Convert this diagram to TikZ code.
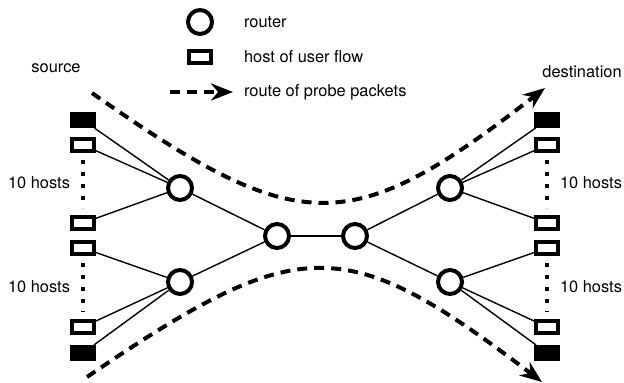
\documentclass[tikz,border=0pt]{standalone}
\usepackage{fontspec}
\setmainfont{TeX Gyre Heros}
\usetikzlibrary{arrows.meta,positioning}

\begin{document}
\begin{tikzpicture}[x=0.5pt,y=-0.5pt,
  font=\fontsize{8.2}{10}\selectfont,
  router/.style={draw, circle, line width=2pt, fill=white, minimum size=12pt, inner sep=0pt},
  host/.style={draw, rectangle, line width=2pt, fill=white, minimum width=11pt, minimum height=6pt, inner sep=0pt},
  srchost/.style={host, fill=black},
  link/.style={line width=0.7pt},
  hostdots/.style={line width=1.8pt, dash pattern=on 1.8pt off 4.2pt, shorten <=3.5pt, shorten >=3.5pt},
  probe/.style={line width=2pt, dash pattern=on 5pt off 3.5pt, -{Stealth[length=11pt,width=8.5pt]}}]
\useasboundingbox (0,0) rectangle (624,383);

% legend
\node[router] (legRouter) at (200,22) {};
\node[host] (legHost) at (200,57) {};
\coordinate (legA) at (170,92);
\coordinate (legB) at (233,92);
\draw[probe] (legA) -- (legB);
\node[anchor=west] (legRouterTxt) at (237,22) {router};
\node[anchor=west] (legHostTxt) at (237,57) {host of user flow};
\node[anchor=west] (legProbeTxt) at (237,92) {route of probe packets};

% routers
\node[router] (rL1) at (180,188) {};
\node[router] (rL2) at (180,282) {};
\node[router] (rC1) at (277,236) {};
\node[router] (rC2) at (355,236) {};
\node[router] (rR1) at (450,188) {};
\node[router] (rR2) at (450,282) {};

% hosts, left side
\node[srchost] (hL1) at (83,120) {};
\node[host] (hL2) at (83,145) {};
\node[host] (hL3) at (83,223) {};
\node[host] (hL4) at (83,248) {};
\node[host] (hL5) at (83,327) {};
\node[srchost] (hL6) at (83,353) {};

% hosts, right side
\node[srchost] (hR1) at (547,120) {};
\node[host] (hR2) at (547,145) {};
\node[host] (hR3) at (547,223) {};
\node[host] (hR4) at (547,248) {};
\node[host] (hR5) at (547,327) {};
\node[srchost] (hR6) at (547,353) {};

% links
\draw[link] (hL1) -- (rL1);
\draw[link] (hL2) -- (rL1);
\draw[link] (hL3) -- (rL1);
\draw[link] (hL4) -- (rL2);
\draw[link] (hL5) -- (rL2);
\draw[link] (hL6) -- (rL2);
\draw[link] (rL1) -- (rC1);
\draw[link] (rL2) -- (rC1);
\draw[link] (rC1) -- (rC2);
\draw[link] (rC2) -- (rR1);
\draw[link] (rC2) -- (rR2);
\draw[link] (rR1) -- (hR1);
\draw[link] (rR1) -- (hR2);
\draw[link] (rR1) -- (hR3);
\draw[link] (rR2) -- (hR4);
\draw[link] (rR2) -- (hR5);
\draw[link] (rR2) -- (hR6);

% 10 hosts in between
\draw[hostdots] (hL2) -- (hL3);
\draw[hostdots] (hL4) -- (hL5);
\draw[hostdots] (hR2) -- (hR3);
\draw[hostdots] (hR4) -- (hR5);
\node[anchor=east] (nL1) at (77,183) {10 hosts};
\node[anchor=east] (nL2) at (77,287) {10 hosts};
\node[anchor=west] (nR1) at (553,183) {10 hosts};
\node[anchor=west] (nR2) at (553,287) {10 hosts};

% probe routes
\node (srcLbl) at (56,68) {source};
\node (dstLbl) at (582,72) {destination};
\coordinate (topA) at (92,93);
\coordinate (topB) at (545,88);
\coordinate (botA) at (87,377);
\coordinate (botB) at (542,382);
\draw[probe] (topA) .. controls (300,239) and (350,239) .. (topB);
\draw[probe] (botA) .. controls (300,232) and (345,232) .. (botB);
\end{tikzpicture}
\end{document}
